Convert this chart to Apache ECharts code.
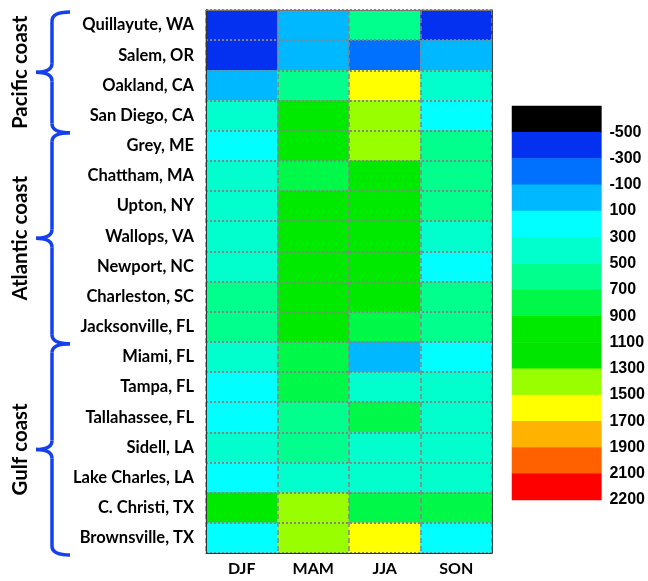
<!DOCTYPE html>
<html><head><meta charset="utf-8">
<script src="https://cdn.jsdelivr.net/npm/echarts@6/dist/echarts.min.js"></script>
<style>html,body{margin:0;padding:0;background:#fff}#c{width:648px;height:581px}</style>
</head><body><div id="c"></div>
<script>
// ---- data ----
const seasons = ['DJF', 'MAM', 'JJA', 'SON'];
const stations = ['Quillayute, WA', 'Salem, OR', 'Oakland, CA', 'San Diego, CA', 'Grey, ME',
  'Chattham, MA', 'Upton, NY', 'Wallops, VA', 'Newport, NC', 'Charleston, SC', 'Jacksonville, FL',
  'Miami, FL', 'Tampa, FL', 'Tallahassee, FL', 'Sidell, LA', 'Lake Charles, LA', 'C. Christi, TX',
  'Brownsville, TX'];
const valDJF = [-400, -400, 0, 400, 200, 400, 400, 400, 400, 600, 600, 400, 200, 200, 400, 200, 1000, 200];
const valMAM = [0, 0, 600, 1000, 1000, 800, 1000, 1000, 1000, 1000, 1000, 800, 800, 600, 600, 400, 1400, 1400];
const valJJA = [600, -200, 1600, 1400, 1400, 1000, 1000, 1000, 1000, 1000, 800, 0, 400, 800, 400, 400, 800, 1600];
const valSON = [-400, 0, 400, 200, 600, 600, 600, 400, 200, 600, 600, 200, 400, 400, 400, 400, 800, 200];
const groupNames = ['Pacific coast', 'Atlantic coast', 'Gulf coast'];
const groupFirst = [0, 4, 11];
const groupLast = [3, 10, 17];
const levelBounds = [-500, -300, -100, 100, 300, 500, 700, 900, 1100, 1300, 1500, 1700, 1900, 2100];
const levelColors = ['#000000', '#0430f0', '#0070ff', '#00b8ff', '#00ffff', '#00ffcc', '#00ff8c',
  '#00f848', '#00ea00', '#00e600', '#99ff00', '#ffff00', '#ffb300', '#ff6000', '#ff0000'];
const colorbarValues = [-600, -400, -200, 0, 200, 400, 600, 800, 1000, 1200, 1400, 1600, 1800, 2000, 2150];
const colorbarLabels = ['', '-500', '-300', '-100', '100', '300', '500', '700', '900', '1100', '1300',
  '1500', '1700', '1900', '2100', '2200'];

// ---- build ----
const cols = [valDJF, valMAM, valJJA, valSON];
const heat = [];
cols.forEach((arr, x) => arr.forEach((v, y) => heat.push([x, y, v])));
const barData = colorbarValues.map((v, i) => [0, i, v]);
const pieces = [{ lt: levelBounds[0], color: levelColors[0] }];
for (let i = 0; i < levelBounds.length; i++) {
  const p = { gte: levelBounds[i], color: levelColors[i + 1] };
  if (i + 1 < levelBounds.length) p.lt = levelBounds[i + 1];
  pieces.push(p);
}
const FONT = 'Lato';
const chart = echarts.init(document.getElementById('c'), null, { renderer: 'canvas' });
const option = {
  animation: false,
  backgroundColor: '#fff',
  grid: [
    { left: 206, top: 10, width: 286, height: 543 },
    { left: 512, top: 106, width: 90, height: 394 }
  ],
  visualMap: { type: 'piecewise', show: false, pieces: pieces, seriesIndex: [0, 1], dimension: 2 },
  xAxis: [
    { type: 'category', gridIndex: 0, data: seasons, position: 'bottom', z: 5,
      axisLine: { lineStyle: { color: '#333', width: 1 } },
      axisTick: { alignWithLabel: true, length: 5, lineStyle: { color: '#333' } },
      axisLabel: { color: '#000', fontFamily: FONT, fontWeight: 'bold', fontSize: 16, margin: 8 },
      splitLine: { show: true, interval: 0, lineStyle: { color: '#858585', width: 1.5, type: [5, 3] } } },
    { type: 'category', gridIndex: 0, data: seasons, position: 'top', z: 5,
      axisLine: { lineStyle: { color: '#777', width: 1 } }, axisTick: { show: false }, axisLabel: { show: false } },
    { type: 'category', gridIndex: 1, data: [''], show: false }
  ],
  yAxis: [
    { type: 'category', gridIndex: 0, data: stations, inverse: true, position: 'left', z: 5,
      axisLine: { lineStyle: { color: '#333', width: 1 } },
      axisTick: { alignWithLabel: true, length: 5, lineStyle: { color: '#333' } },
      axisLabel: { color: '#000', fontFamily: FONT, fontWeight: 'bold', fontSize: 16.5, margin: 12 },
      splitLine: { show: true, interval: 0, lineStyle: { color: '#858585', width: 2, type: [2, 2] } } },
    { type: 'category', gridIndex: 0, data: stations, inverse: true, position: 'right', z: 5,
      axisLine: { lineStyle: { color: '#444', width: 1 } }, axisTick: { show: false }, axisLabel: { show: false } },
    { type: 'category', gridIndex: 1, data: colorbarValues.map((v, i) => i), inverse: true, show: false },
    { type: 'value', gridIndex: 1, min: 0, max: 15, interval: 1, inverse: true, position: 'right',
      axisLine: { show: false }, axisTick: { show: false }, splitLine: { show: false },
      axisLabel: { color: '#000', fontFamily: 'Liberation Sans', fontWeight: 'bold', fontSize: 16, margin: 8,
        formatter: v => colorbarLabels[v] } }
  ],
  series: [
    { type: 'heatmap', xAxisIndex: 0, yAxisIndex: 0, data: heat },
    { type: 'heatmap', xAxisIndex: 2, yAxisIndex: 2, data: barData }
  ]
};
chart.setOption(option);

// group braces and labels, positioned from the category axis
const yPix = i => chart.convertToPixel({ yAxisIndex: 0 }, stations[i]);
const band = yPix(1) - yPix(0);
const graphics = [];
const xr = 70, xm = 52, xt = 36, r = 9;
const braceStyle = { fill: null, stroke: '#1540ee', lineWidth: 3.5, lineCap: 'butt' };
function curve(x1, y1, cx, cy, x2, y2) {
  return { type: 'bezierCurve', shape: { x1: x1, y1: y1, x2: x2, y2: y2, cpx1: cx, cpy1: cy }, style: braceStyle };
}
function seg(x1, y1, x2, y2) {
  return { type: 'line', shape: { x1: x1, y1: y1, x2: x2, y2: y2 }, style: braceStyle };
}
groupNames.forEach((name, g) => {
  const top = yPix(groupFirst[g]) - band / 2 + 2;
  const bot = yPix(groupLast[g]) + band / 2 + 2;
  const mid = (top + bot) / 2;
  graphics.push(curve(xr, top, xm, top, xm, top + r));
  graphics.push(seg(xm, top + r, xm, mid - r));
  graphics.push(curve(xm, mid - r, xm, mid, xt, mid));
  graphics.push(curve(xt, mid, xm, mid, xm, mid + r));
  graphics.push(seg(xm, mid + r, xm, bot - r));
  graphics.push(curve(xm, bot - r, xm, bot, xr, bot));
  graphics.push({ type: 'text', x: 20, y: mid, rotation: Math.PI / 2,
    style: { text: name, font: 'bold 20.5px Lato', fill: '#000', align: 'center', verticalAlign: 'middle',
      textAlign: 'center', textVerticalAlign: 'middle' } });
});
graphics.push({ type: 'text', x: 557, y: 290, rotation: Math.PI / 2,
  style: { text: 'ΔBLD, m', font: 'bold 22px "Liberation Sans"', fill: '#000', align: 'center', verticalAlign: 'middle',
    textAlign: 'center', textVerticalAlign: 'middle' } });
chart.setOption({ graphic: graphics });
</script></body></html>
